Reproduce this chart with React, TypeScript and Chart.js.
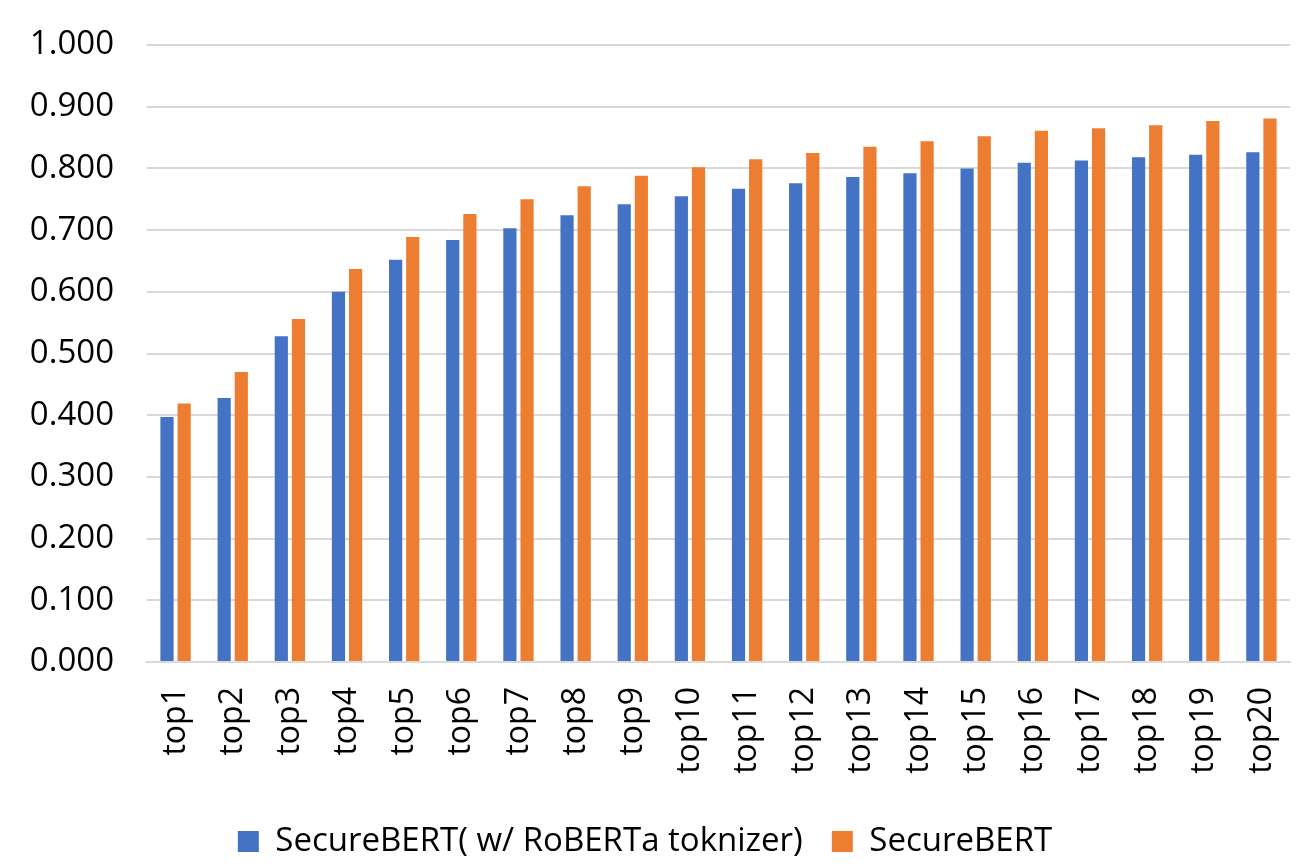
import { useEffect, useRef } from 'react'
import { Chart, ChartConfiguration, registerables } from 'chart.js'

Chart.register(...registerables)

const categories = [
  'top1', 'top2', 'top3', 'top4', 'top5', 'top6', 'top7', 'top8', 'top9', 'top10',
  'top11', 'top12', 'top13', 'top14', 'top15', 'top16', 'top17', 'top18', 'top19', 'top20',
]

const robertaTokenizer = [
  0.397, 0.428, 0.528, 0.600, 0.652, 0.684, 0.703, 0.724, 0.742, 0.755,
  0.767, 0.776, 0.786, 0.792, 0.800, 0.809, 0.813, 0.818, 0.822, 0.826,
]

const secureBert = [
  0.419, 0.470, 0.556, 0.637, 0.689, 0.726, 0.750, 0.771, 0.788, 0.802,
  0.815, 0.825, 0.835, 0.844, 0.852, 0.861, 0.865, 0.870, 0.877, 0.881,
]

const seriesNames = ['SecureBERT( w/ RoBERTa toknizer)', 'SecureBERT']
const seriesColors = ['#4472C4', '#ED7D31']

const fontFamily = '"Open Sans", "Noto Sans", sans-serif'

export default function App() {
  const canvasRef = useRef<HTMLCanvasElement>(null)
  const chartRef = useRef<Chart | null>(null)

  useEffect(() => {
    if (!canvasRef.current) return
    const ctx = canvasRef.current.getContext('2d')
    if (!ctx) return

    if (chartRef.current) {
      chartRef.current.destroy()
    }

    const config: ChartConfiguration = {
      type: 'bar',
      data: {
        labels: categories,
        datasets: [robertaTokenizer, secureBert].map((values, i) => ({
          label: seriesNames[i],
          data: values,
          backgroundColor: seriesColors[i],
          borderWidth: 0,
          categoryPercentage: 0.6,
          barPercentage: 0.77,
        })),
      },
      options: {
        responsive: true,
        maintainAspectRatio: false,
        animation: false,
        layout: {
          padding: { top: 45, right: 6, left: 0, bottom: 0 },
        },
        scales: {
          x: {
            grid: { display: false, drawTicks: false },
            border: { display: true, color: '#d9d9d9', width: 2 },
            ticks: {
              color: '#000',
              font: { family: fontFamily, size: 32 },
              minRotation: 90,
              maxRotation: 90,
              padding: 25,
              autoSkip: false,
            },
            afterFit: (scale: any) => {
              scale.height = 134
              scale.paddingRight = 0
              scale.paddingLeft = 0
            },
          },
          y: {
            min: 0,
            max: 1,
            grid: { color: '#d9d9d9', lineWidth: 2, drawTicks: false },
            border: { display: false },
            ticks: {
              stepSize: 0.1,
              color: '#000',
              font: { family: fontFamily, size: 33 },
              padding: 33,
              callback: (v: any) => Number(v).toFixed(3),
            },
            afterFit: (scale: any) => {
              scale.width = 147
              scale.paddingTop = 0
              scale.paddingBottom = 0
            },
          },
        },
        plugins: {
          legend: {
            position: 'bottom',
            labels: {
              color: '#000',
              font: { family: fontFamily, size: 33 },
              boxWidth: 21,
              boxHeight: 21,
              padding: 29,
            },
          },
          tooltip: { enabled: false },
        },
      },
    }

    chartRef.current = new Chart(ctx, config)

    return () => {
      chartRef.current?.destroy()
      chartRef.current = null
    }
  }, [])

  return (
    <div style={{ position: 'fixed', left: 0, top: 0, width: 1296, height: 868, background: '#fff' }}>
      <canvas ref={canvasRef} />
    </div>
  )
}
